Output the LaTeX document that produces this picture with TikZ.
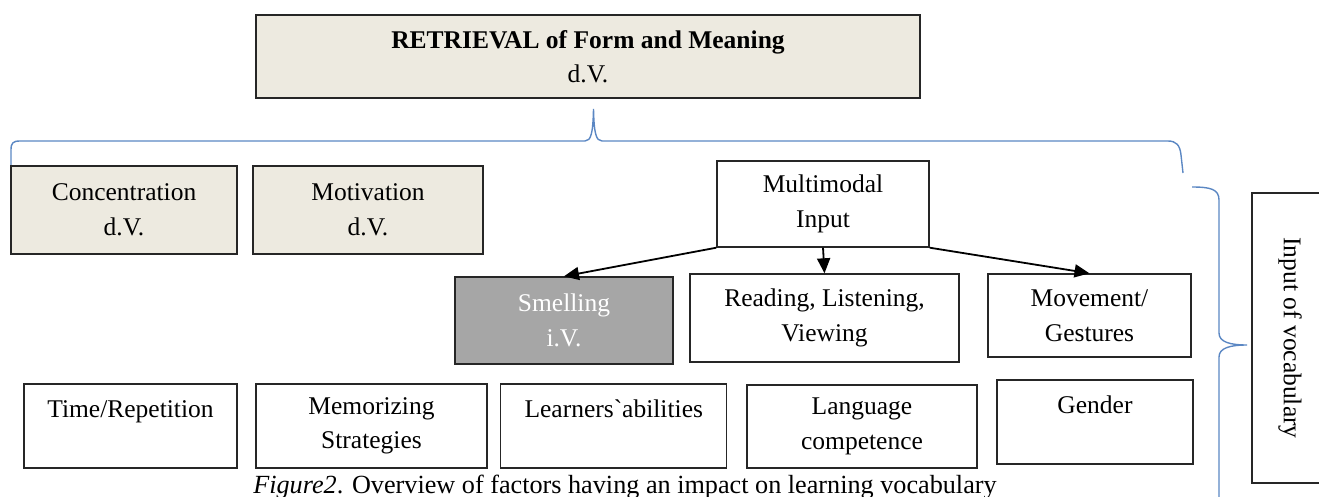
\documentclass[tikz,border=0pt]{standalone}
\usepackage{fontspec}
\setmainfont{Liberation Serif}
\usetikzlibrary{arrows.meta}
\definecolor{beige}{HTML}{EDEAE0}
\definecolor{greyfill}{HTML}{A6A6A6}
\definecolor{braceblue}{HTML}{5B87C3}
\tikzset{
  box/.style={draw=black!85, line width=1.4pt, inner sep=0pt, align=center,
    font=\fontsize{25.5}{34.5}\selectfont},
  beigebox/.style={box, fill=beige},
  greybox/.style={box, fill=greyfill, text=white},
  arr/.style={line width=1.8pt, -{Triangle[length=15pt,width=13pt]}},
  brace/.style={draw=braceblue, line width=1.4pt},
}
\begin{document}
\begin{tikzpicture}[x=1pt,y=-1pt]
\useasboundingbox (0,0) rectangle (1319,497);
\clip (0,0) rectangle (1319,497);
% top
\node[beigebox, minimum width=664pt, minimum height=83pt] (top) at (588,56.5)
  {\textbf{RETRIEVAL of Form and Meaning}\\d.V.};
% second row
\node[beigebox, minimum width=226pt, minimum height=88pt] (conc) at (124,210) {Concentration\\d.V.};
\node[beigebox, minimum width=230pt, minimum height=88pt] (motiv) at (368,210) {Motivation\\d.V.};
\node[box, minimum width=212pt, minimum height=86pt] (multi) at (823,204) {Multimodal\\Input};
% third row
\node[greybox, minimum width=218pt, minimum height=87pt] (smell) at (564,320.5) {Smelling\\i.V.};
\node[box, minimum width=269pt, minimum height=88pt] (read) at (824.5,318) {Reading, Listening,\\Viewing};
\node[box, minimum width=203pt, minimum height=83pt] (move) at (1089.5,315.5) {Movement/\\Gestures};
% bottom row
\node[box, minimum width=213pt, minimum height=84pt] (time) at (130.5,426) {Time/Repetition\\\mbox{}};
\node[box, minimum width=231pt, minimum height=84pt] (memo) at (371.5,426) {Memorizing\\Strategies};
\node[box, minimum width=226pt, minimum height=84pt] (learn) at (613.75,426) {Learners\textasciigrave abilities\\\mbox{}};
\node[box, minimum width=230pt, minimum height=83pt] (lang) at (862,426.5) {Language\\competence};
\node[box, minimum width=196pt, minimum height=84pt] (gender) at (1095,422) {Gender\\\mbox{}};
% right box
\node[box, minimum width=76pt, minimum height=290pt] (inputbox) at (1290,338) {};
\node[rotate=-90, font=\fontsize{25.5}{34.5}\selectfont, inner sep=0pt] (inputtxt) at (inputbox.center) {Input of vocabulary};
% arrows
\draw[arr] (multi.south west) -- (smell.north);
\draw[arr] (multi.south) -- (read.north);
\draw[arr] (multi.south east) -- (move.north);
% braces
\draw[brace] (11,165) -- (11,150) .. controls (11,143) and (13,141) .. (20,141)
  -- (585,141) .. controls (591,141) and (593,133) .. (593.5,109)
  .. controls (594,133) and (596,141) .. (602,141)
  -- (1168,141) .. controls (1176,141) and (1180,145) .. (1181,155) -- (1183,173);
\draw[brace] (1192,187) .. controls (1210,187) and (1219,189) .. (1219,200)
  -- (1219,333) .. controls (1219,342) and (1230,345) .. (1247,345)
  .. controls (1230,345) and (1219,348) .. (1219,357) -- (1219,505);
% caption
\node[anchor=base, inner sep=0pt, font=\fontsize{26.2}{34.5}\selectfont] (caption) at (625,493)
  {\textit{Figure2}. Overview of factors having an impact on learning vocabulary};
\end{tikzpicture}
\end{document}
